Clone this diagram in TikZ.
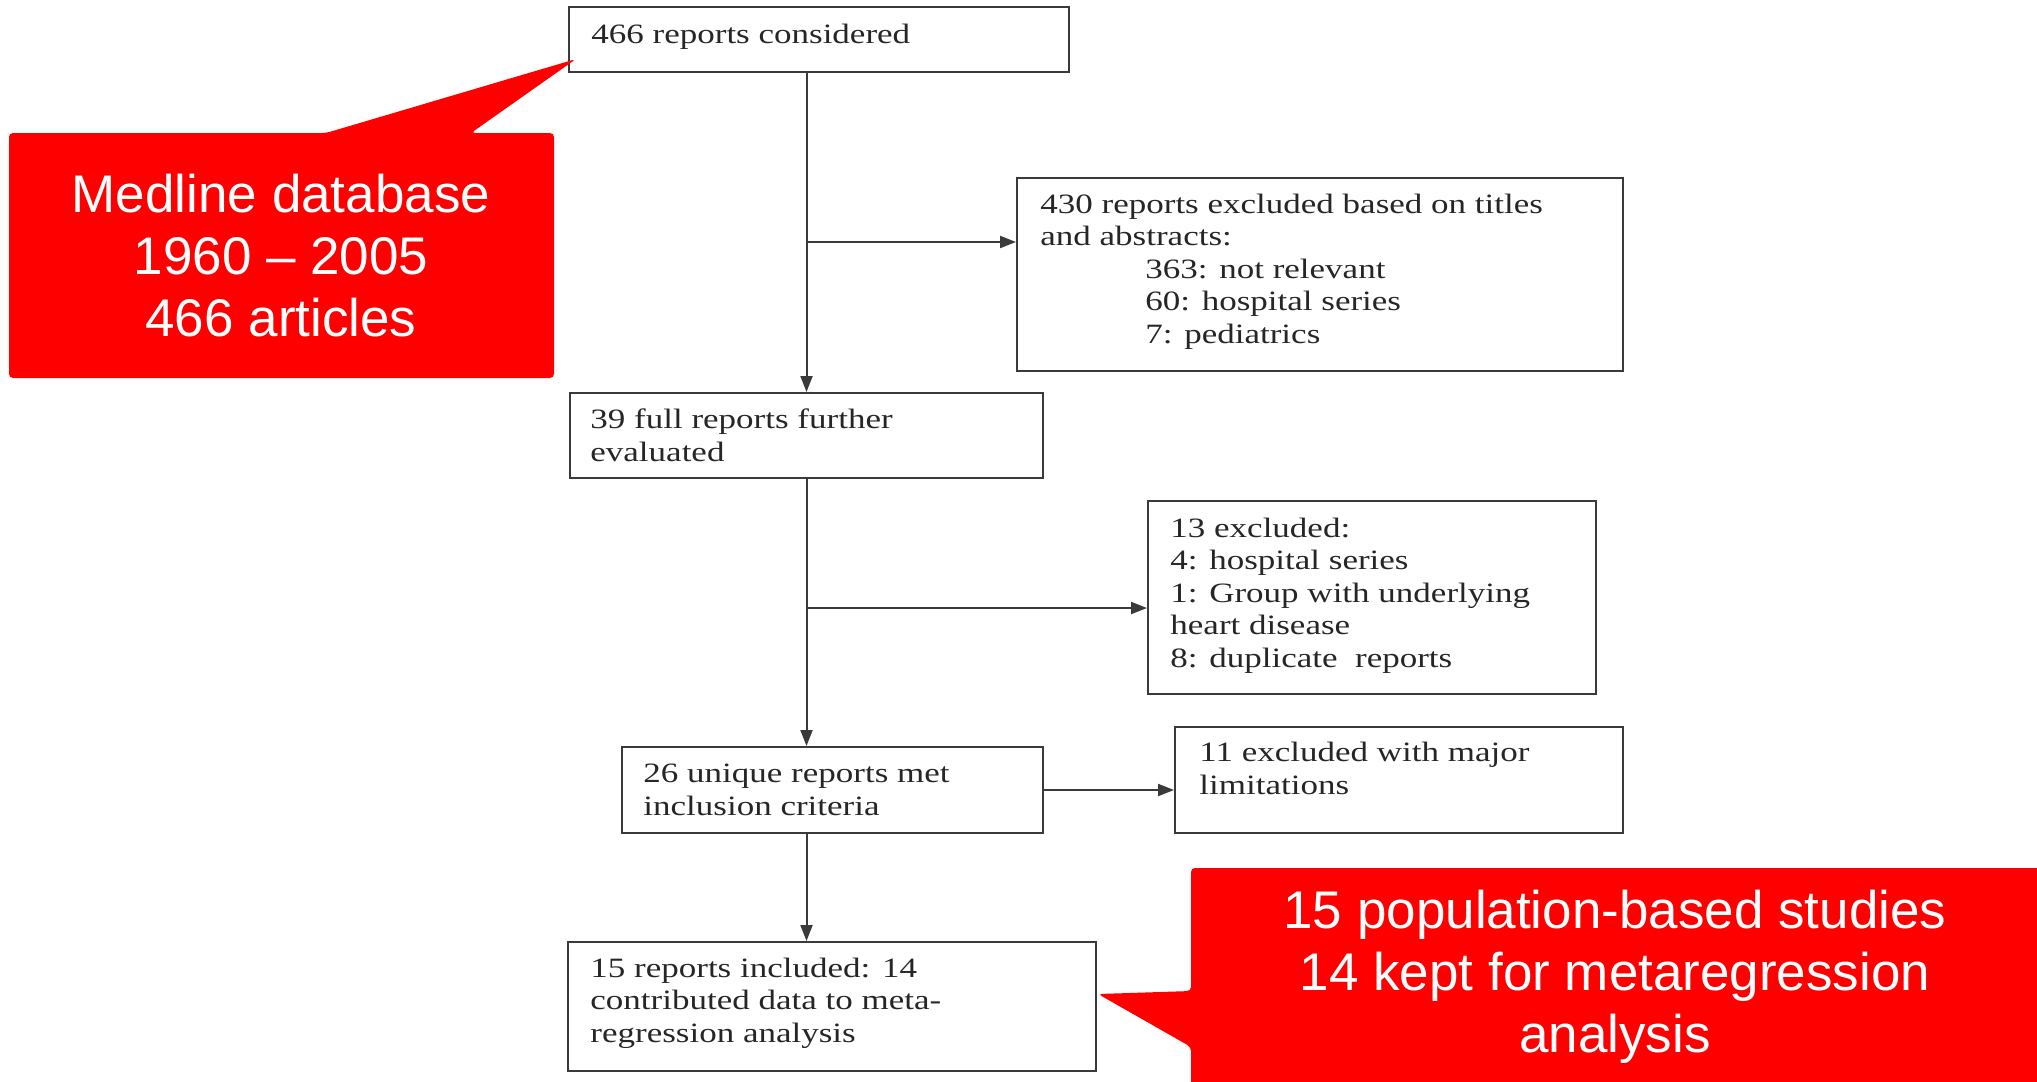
\documentclass[tikz,border=0pt]{standalone}
\usepackage{fontspec}
\usetikzlibrary{arrows.meta,fit}
\newfontfamily\flowfont[FakeStretch=1.25]{Liberation Serif}
\newfontfamily\calloutfont{Liberation Sans}
\definecolor{lineg}{RGB}{58,58,58}
\definecolor{calloutred}{RGB}{255,0,0}
\begin{document}
\begin{tikzpicture}[x=0.5pt,y=-0.5pt,
  box/.style={draw=lineg,line width=1pt,inner sep=0pt,fill=none},
  % multi-line texts are placed by the baseline of their last line
  ftxt/.style={inner sep=0pt,anchor=base west,align=left,text=black!85,
    font=\flowfont\fontsize{14}{16.25}\selectfont},
  arr/.style={draw=lineg,line width=1pt,-{Triangle[length=8pt,width=6pt]}},
  callout/.style={fill=calloutred,draw=none,rounded corners=2pt},
  ctxt/.style={inner sep=0pt,align=center,text=white,
    font=\calloutfont\fontsize{26.5}{31}\selectfont}]
\useasboundingbox (0,0) rectangle (2037,1081);

% flowchart boxes
\node[box,fit={(569,7) (1069,72)}] (b1) {};
\node[box,fit={(1017,178) (1623,371)}] (bx1) {};
\node[box,fit={(570,393) (1043,478)}] (b2) {};
\node[box,fit={(1148,501) (1596,694)}] (bx2) {};
\node[box,fit={(622,747) (1043,833)}] (b3) {};
\node[box,fit={(1175,727) (1623,833)}] (bx3) {};
\node[box,fit={(568,942) (1096,1071)}] (b4) {};

% box texts
\node[ftxt] (t1) at (591,44) {466 reports considered};
\node[ftxt] (tx1) at (1040,343)
  {430 reports excluded based on titles\\and abstracts:\\
   \hspace*{52.5pt}363: not relevant\\\hspace*{52.5pt}60: hospital series\\
   \hspace*{52.5pt}7: pediatrics};
\node[ftxt] (t2) at (590,461) {39 full reports further\\evaluated};
\node[ftxt] (tx2) at (1170,667) {13 excluded:\\4: hospital series\\1: Group with underlying\\heart disease\\8: duplicate\ \ reports};
\node[ftxt] (t3) at (643,815) {26 unique reports met\\inclusion criteria};
\node[ftxt] (tx3) at (1199,794) {11 excluded with major\\limitations};
\node[ftxt] (t4) at (590,1042) {15 reports included: 14\\contributed data to meta-\\regression analysis};

% branch points on the main line
\coordinate (j1) at (807,242);
\coordinate (j2) at (807,608);

% connectors
\draw[arr] (b1.south -| b2.north) -- (b2.north);
\draw[arr] (j1) -- (j1 -| bx1.west);
\draw[arr] (b2.south) -- (b2.south |- b3.north);
\draw[arr] (j2) -- (j2 -| bx2.west);
\draw[arr] (b3.east) -- (b3.east -| bx3.west);
\draw[arr] (b3.south -| b2.south) -- (b4.north -| b2.south);

% red callouts
\fill[callout] (9,133) -- (326,133) -- (576,59) -- (471,133) -- (554,133)
  -- (554,378) -- (9,378) -- cycle;
\node[ctxt] (c1) at (281,256) {Medline database\\1960 – 2005\\466 articles};
\fill[callout] (1191,868) -- (2060,868) -- (2060,1100) -- (1191,1100)
  -- (1191,1047) -- (1098,994) -- (1191,991) -- cycle;
\node[ctxt] (c2) at (1615,977) {15 population-based studies\\14 kept for metaregression\\analysis};
\end{tikzpicture}
\end{document}
